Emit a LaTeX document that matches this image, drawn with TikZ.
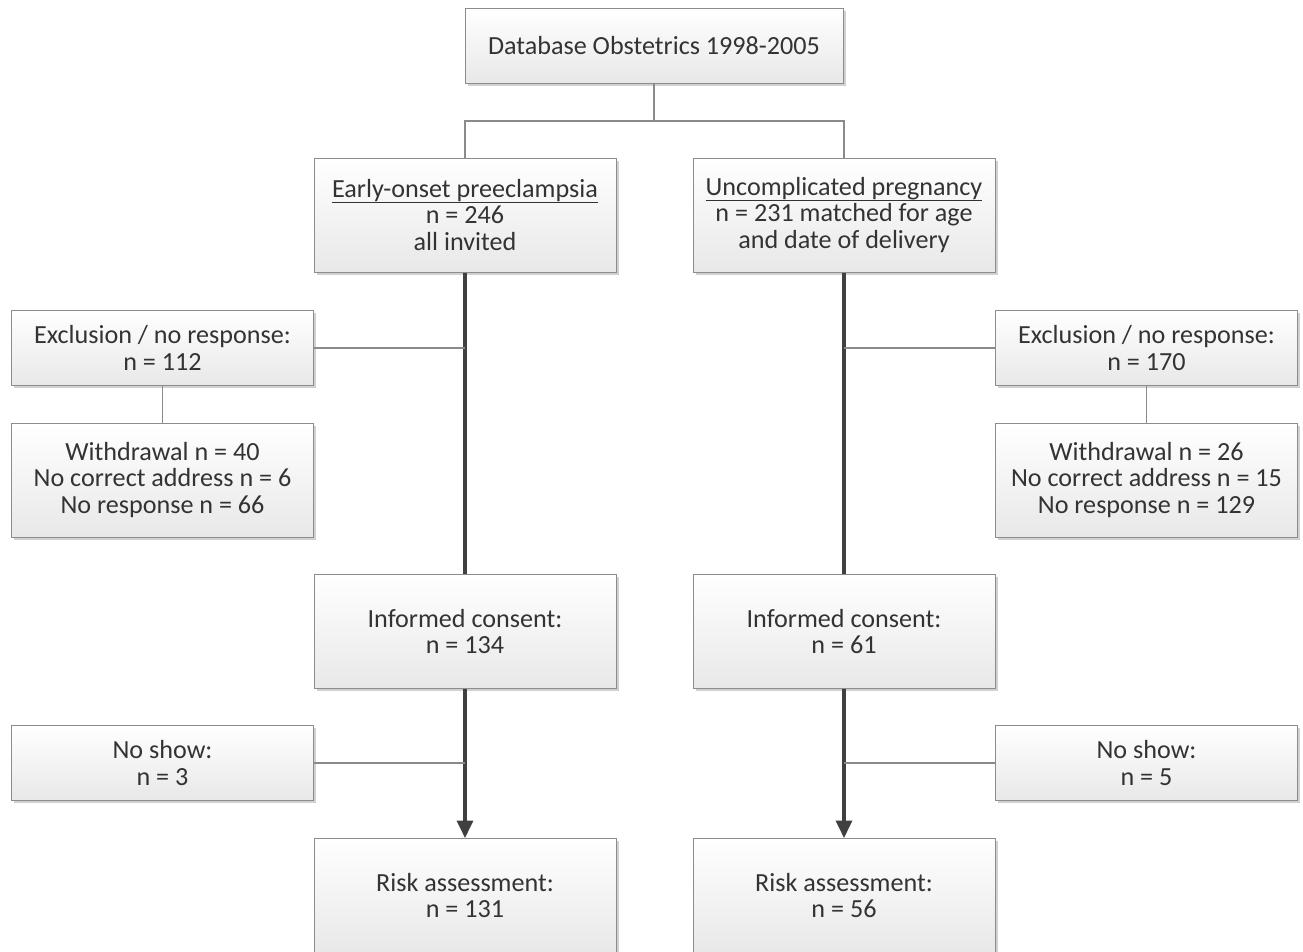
\documentclass[tikz,border=0pt]{standalone}
\usepackage{fontspec}
\setmainfont{Carlito}
\usetikzlibrary{arrows.meta,shadows}
\definecolor{boxline}{HTML}{8C8C8C}
\definecolor{thinline}{HTML}{8A8A8A}
\definecolor{thickline}{HTML}{404040}
\newcommand\undertext[1]{\setbox0\hbox{#1}\rlap{\rule[-4pt]{\wd0}{0.7pt}}\box0}
\tikzset{box/.style={draw=boxline,line width=0.75pt,top color=white,bottom color=black!9,
  drop shadow={shadow xshift=2pt,shadow yshift=-2pt,fill=black!18,opacity=1},
  minimum width=226.5pt,minimum height=85.5pt,inner sep=0pt,align=center,
  text=black!80,font=\fontsize{19.6}{19.8}\selectfont},
  lowbox/.style={box,minimum height=56.25pt},
  thin/.style={draw=thinline,line width=0.8pt},
  main/.style={draw=thickline,line width=2.3pt}}
\begin{document}
\begin{tikzpicture}[x=0.75pt,y=-0.75pt]
\useasboundingbox (0,0) rectangle (1303,951);
\node[lowbox,minimum width=283.5pt] (db) at (654,45.5){Database Obstetrics 1998-2005};
\node[box] (eop) at (465,215){\undertext{Early-onset preeclampsia}\\n = 246\\all invited};
\node[box] (unc) at (844,215){\undertext{Uncomplicated pregnancy}\\n = 231 matched for age\\and date of delivery};
\node[lowbox] (exl) at (162.5,348){Exclusion / no response:\\n = 112};
\node[lowbox] (exr) at (1146.5,348){Exclusion / no response:\\n = 170};
\node[box] (wdl) at (162.5,480){Withdrawal n = 40\\No correct address n = 6\\No response n = 66};
\node[box] (wdr) at (1146.5,480){Withdrawal n = 26\\No correct address n = 15\\No response n = 129};
\node[box] (icl) at (465,631.5){Informed consent:\\n = 134};
\node[box] (icr) at (844,631.5){Informed consent:\\n = 61};
\node[lowbox] (nsl) at (162.5,763){No show:\\n = 3};
\node[lowbox] (nsr) at (1146.5,763){No show:\\n = 5};
\node[box] (ral) at (465,895.5){Risk assessment:\\n = 131};
\node[box] (rar) at (844,895.5){Risk assessment:\\n = 56};
\coordinate (split) at (654,121);
\draw[thin] (db.south)--(split);\draw[thin] (split)-|(eop.north);\draw[thin] (split)-|(unc.north);
\draw[main] (eop.south)--(icl.north);\draw[main] (unc.south)--(icr.north);
\draw[main,-{Triangle[width=12pt,length=13pt]}] (icl.south)--(ral.north);
\draw[main,-{Triangle[width=12pt,length=13pt]}] (icr.south)--(rar.north);
\draw[thin] (exl.east)--(exl.east-|eop.south);\draw[thin] (exr.west)--(exr.west-|unc.south);
\draw[thin] (exl.south)--(wdl.north);\draw[thin] (exr.south)--(wdr.north);
\draw[thin] (nsl.east)--(nsl.east-|icl.south);\draw[thin] (nsr.west)--(nsr.west-|icr.south);
\end{tikzpicture}
\end{document}
